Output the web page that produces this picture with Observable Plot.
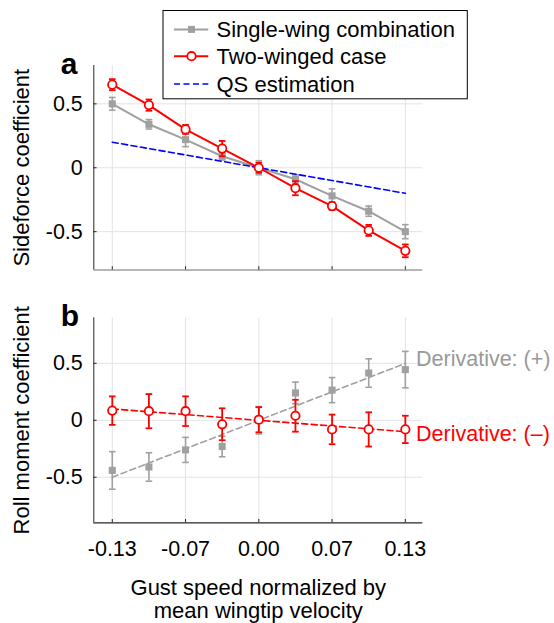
<!DOCTYPE html>
<html>
<head>
<meta charset="utf-8">
<script src="https://cdn.jsdelivr.net/npm/d3@7"></script>
<script src="https://cdn.jsdelivr.net/npm/@observablehq/plot@0.6"></script>
<style>
  html, body { margin: 0; padding: 0; background: #fff; }
  #wrap { position: relative; width: 554px; height: 623px; overflow: hidden; background: #fff; }
  #wrap > svg { position: absolute; left: 0; }
</style>
</head>
<body>
<div id="wrap"></div>
<script>
// ---------- data ----------
const gust = [-0.13, -0.0975, -0.065, -0.0325, 0, 0.0325, 0.065, 0.0975, 0.13];
const xTicks = [-0.13, -0.065, 0, 0.065, 0.13];
const xTickLabels = ["-0.13", "-0.07", "0.00", "0.07", "0.13"];
const yTicks = [-0.5, 0, 0.5];

// panel a: sideforce coefficient
const sideSingle    = [0.50, 0.34, 0.22, 0.09, 0.00, -0.09, -0.22, -0.34, -0.50];
const sideSingleErr = [0.05, 0.037, 0.055, 0.03, 0.055, 0.035, 0.055, 0.04, 0.055];
const sideTwo       = [0.65, 0.49, 0.30, 0.15, 0.00, -0.16, -0.30, -0.49, -0.65];
const sideTwoErr    = [0.043, 0.044, 0.035, 0.06, 0.04, 0.055, 0.03, 0.043, 0.05];
const qsX = [-0.13, 0.13];
const qsY = [0.2, -0.2];

// panel b: roll moment coefficient
const rollSingle    = [-0.44, -0.41, -0.26, -0.23, 0.00, 0.24, 0.265, 0.415, 0.445];
const rollSingleErr = [0.165, 0.125, 0.11, 0.09, 0.12, 0.095, 0.11, 0.125, 0.16];
const rollTwo       = [0.085, 0.08, 0.08, -0.035, 0.005, 0.04, -0.08, -0.08, -0.08];
const rollTwoErr    = [0.125, 0.15, 0.13, 0.14, 0.11, 0.14, 0.13, 0.15, 0.12];
const fitX     = [-0.13, 0.13];
const fitPlus  = [-0.5, 0.5];
const fitMinus = [0.1, -0.1];

const legendLabels = ["Single-wing combination", "Two-winged case", "QS estimation"];
const yTitleA = "Sideforce coefficient";
const yTitleB = "Roll moment coefficient";
const xTitle = "Gust speed normalized by\nmean wingtip velocity";
const derivPlus = "Derivative: (+)";
const derivMinus = "Derivative: (\u2013)";

// ---------- style ----------
const font = '"Liberation Sans", Arial, Helvetica, sans-serif';
const dark = "#262626", gridC = "#e3e3e3", gray = "#a0a0a0", red = "#ff0000", blue = "#0000ff";
const W = 554;
const xDomain = [-0.1464, 0.1455];
const mL = 93.3, mR = 131.7;
const frameW = W - mL - mR;
const FS = 22, TFS = 21.5;

const cap = { draw(ctx) { ctx.moveTo(-3.3, 0); ctx.lineTo(3.3, 0); } };
const fmtY = d => d === 0 ? "0" : String(d);
const fmtX = d => xTickLabels[xTicks.indexOf(d)];

function rows(ys, es) {
  return gust.map((x, i) => ({ x, y: ys[i], lo: ys[i] - es[i], hi: ys[i] + es[i] }));
}
function pts(xs, ys) { return xs.map((x, i) => ({ x, y: ys[i] })); }

function errMarks(data, color, sw) {
  return [
    Plot.ruleX(data, { x: "x", y1: "lo", y2: "hi", stroke: color, strokeWidth: sw }),
    Plot.dot(data, { x: "x", y: "lo", symbol: cap, stroke: color, strokeWidth: sw, fill: "none" }),
    Plot.dot(data, { x: "x", y: "hi", symbol: cap, stroke: color, strokeWidth: sw, fill: "none" })
  ];
}

function frameMarks(yDomain, frameH, bottomColor) {
  return [
    Plot.gridX(xTicks, { stroke: gridC, strokeOpacity: 1, strokeWidth: 1 }),
    Plot.gridY(yTicks, { stroke: gridC, strokeOpacity: 1, strokeWidth: 1 }),
    Plot.ruleX([xDomain[0]], { stroke: dark, strokeWidth: 1 }),
    Plot.ruleY([yDomain[0]], { stroke: bottomColor, strokeWidth: 1.2 }),
    Plot.ruleX(xTicks, { insetTop: frameH - 3.3, stroke: dark, strokeWidth: 1 }),
    Plot.ruleY(yTicks, { insetRight: frameW - 3.3, stroke: dark, strokeWidth: 1 }),
    Plot.axisY(yTicks, { tickSize: 0, tickPadding: 11, tickFormat: fmtY, label: null, fontSize: TFS })
  ];
}

const wrap = document.getElementById("wrap");

// ---------- panel a ----------
const dA1 = rows(sideSingle, sideSingleErr);
const dA2 = rows(sideTwo, sideTwoErr);
const yDomA = [-0.8, 0.8];
const hA = 290, mTA = 65, mBA = 20.5;
const plotA = Plot.plot({
  width: W, height: hA,
  marginTop: mTA, marginBottom: mBA, marginLeft: mL, marginRight: mR,
  style: { fontFamily: font, fontSize: FS + "px", color: "#000", background: "transparent", overflow: "visible" },
  x: { domain: xDomain, axis: null },
  y: { domain: yDomA, axis: null },
  marks: [
    ...frameMarks(yDomA, hA - mTA - mBA, "#6e6e6e"),
    ...errMarks(dA1, gray, 1.6),
    Plot.line(dA1, { x: "x", y: "y", stroke: gray, strokeWidth: 2 }),
    Plot.dot(dA1, { x: "x", y: "y", symbol: "square", r: 4, fill: gray, stroke: "none" }),
    Plot.line(pts(qsX, qsY), { x: "x", y: "y", stroke: blue, strokeWidth: 1.6, strokeDasharray: "6,3.5" }),
    ...errMarks(dA2, red, 1.8),
    Plot.line(dA2, { x: "x", y: "y", stroke: red, strokeWidth: 2 }),
    Plot.dot(dA2, { x: "x", y: "y", r: 4.2, fill: "white", stroke: red, strokeWidth: 1.8 }),
    Plot.text([yTitleA], { frameAnchor: "left", rotate: -90, dx: -72, textAnchor: "middle", lineAnchor: "middle", fontSize: FS }),
    Plot.text(["a"], { frameAnchor: "top-left", dx: -33, dy: 8.5, lineAnchor: "bottom", textAnchor: "start", fontWeight: "bold", fontSize: 30 })
  ]
});
plotA.style.top = "0px";
wrap.appendChild(plotA);

// ---------- panel b ----------
const dB1 = rows(rollSingle, rollSingleErr);
const dB2 = rows(rollTwo, rollTwoErr);
const yDomB = [-0.9, 0.9];
const hB = 333, mTB = 27.3, mBB = 100.7;
const plotB = Plot.plot({
  width: W, height: hB,
  marginTop: mTB, marginBottom: mBB, marginLeft: mL, marginRight: mR,
  style: { fontFamily: font, fontSize: FS + "px", color: "#000", background: "transparent", overflow: "visible" },
  x: { domain: xDomain, axis: null },
  y: { domain: yDomB, axis: null },
  marks: [
    ...frameMarks(yDomB, hB - mTB - mBB, dark),
    Plot.axisX(xTicks, { tickSize: 0, tickPadding: 18, tickFormat: fmtX, label: null, fontSize: TFS }),
    Plot.line(pts(fitX, fitPlus), { x: "x", y: "y", stroke: gray, strokeWidth: 1.6, strokeDasharray: "6,3.5" }),
    ...errMarks(dB1, gray, 1.6),
    Plot.dot(dB1, { x: "x", y: "y", symbol: "square", r: 4, fill: gray, stroke: "none" }),
    Plot.line(pts(fitX, fitMinus), { x: "x", y: "y", stroke: red, strokeWidth: 1.6, strokeDasharray: "6,3.5" }),
    ...errMarks(dB2, red, 1.8),
    Plot.dot(dB2, { x: "x", y: "y", r: 4.2, fill: "white", stroke: red, strokeWidth: 1.8 }),
    Plot.text([{ x: fitX[1], y: fitPlus[1], t: derivPlus }], { x: "x", y: "y", text: "t", dx: 10.7, dy: -4.3, textAnchor: "start", fill: "#999999", fontSize: TFS }),
    Plot.text([{ x: fitX[1], y: fitMinus[1], t: derivMinus }], { x: "x", y: "y", text: "t", dx: 10.7, dy: 2, textAnchor: "start", fill: red, fontSize: TFS }),
    Plot.text([yTitleB], { frameAnchor: "left", rotate: -90, dx: -72, textAnchor: "middle", lineAnchor: "middle", fontSize: FS }),
    Plot.text([xTitle], { frameAnchor: "bottom", dy: 95.5, textAnchor: "middle", lineAnchor: "bottom", lineHeight: 1.06, fontSize: FS }),
    Plot.text(["b"], { frameAnchor: "top-left", dx: -33, dy: 7.7, lineAnchor: "bottom", textAnchor: "start", fontWeight: "bold", fontSize: 30 })
  ]
});
plotB.style.top = "290px";
wrap.appendChild(plotB);

// ---------- legend ----------
const leg = d3.select(wrap).append("svg")
  .attr("width", W).attr("height", 110)
  .style("top", "0px")
  .style("font-family", font);
leg.append("rect")
  .attr("x", 163).attr("y", 10.5).attr("width", 304.3).attr("height", 88.3)
  .attr("fill", "white").attr("stroke", "#000").attr("stroke-width", 1);
const rowY = [29.4, 56.2, 84];
const lx1 = 174, lx2 = 208.3, lxm = 191.5;
// row 1: gray line + square
leg.append("line").attr("x1", lx1).attr("x2", lx2).attr("y1", rowY[0]).attr("y2", rowY[0])
  .attr("stroke", gray).attr("stroke-width", 2);
leg.append("rect").attr("x", lxm - 3.5).attr("y", rowY[0] - 3.5).attr("width", 7).attr("height", 7).attr("fill", gray);
// row 2: red line + circle
leg.append("line").attr("x1", lx1).attr("x2", lx2).attr("y1", rowY[1]).attr("y2", rowY[1])
  .attr("stroke", red).attr("stroke-width", 2);
leg.append("circle").attr("cx", lxm).attr("cy", rowY[1]).attr("r", 4.2)
  .attr("fill", "white").attr("stroke", red).attr("stroke-width", 1.8);
// row 3: blue dashed
leg.append("line").attr("x1", lx1).attr("x2", lx2).attr("y1", rowY[2]).attr("y2", rowY[2])
  .attr("stroke", blue).attr("stroke-width", 1.6).attr("stroke-dasharray", "6,3.5");
legendLabels.forEach((t, i) => {
  leg.append("text").attr("x", 216.5).attr("y", rowY[i]).attr("dy", "0.35em")
    .attr("font-size", FS).attr("fill", "#000").text(t);
});
</script>
</body>
</html>
